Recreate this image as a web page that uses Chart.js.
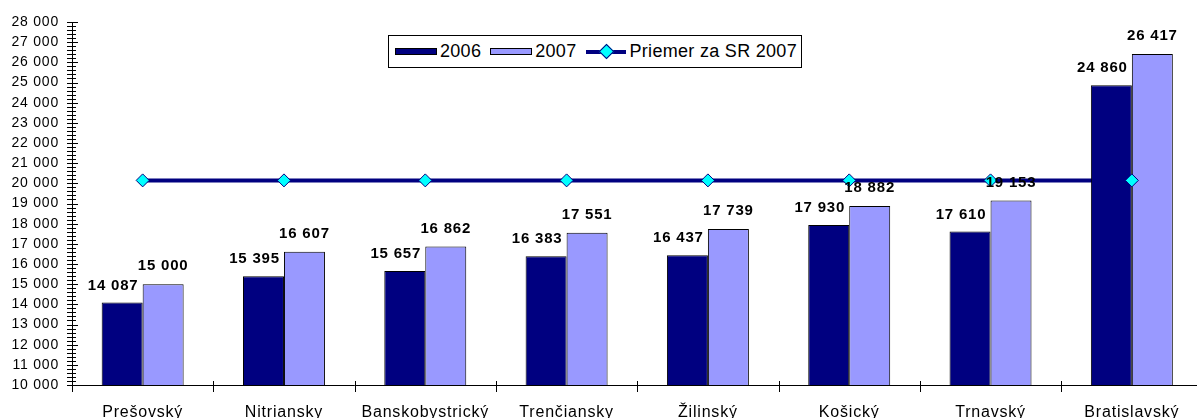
<!DOCTYPE html>
<html>
<head>
<meta charset="utf-8">
<script src="https://cdn.jsdelivr.net/npm/chart.js@4"></script>
<style>
  html, body { margin: 0; padding: 0; background: #fff; overflow: hidden; }
  #wrap { position: relative; width: 1210px; height: 418px; }
  #legend {
    position: absolute; left: 388px; top: 35px; width: 412px; height: 31px;
    border: 1px solid #000; background: #fff; box-sizing: content-box;
    font-family: "Liberation Sans", Arial, sans-serif; font-size: 18px; letter-spacing: 0.3px;
    display: flex; align-items: center; color: #000;
  }
  .sw { display: inline-block; width: 40px; height: 5px; border: 1px solid #000; margin: 0 3px 0 6px; }
  .ln { position: relative; display: inline-block; width: 40px; height: 4px; background: #000080; margin: 0 4px 0 9px; }
  .ln i { position: absolute; left: 15px; top: -4px; width: 9px; height: 9px; background: #00ffff;
          border: 1px solid #000080; transform: rotate(45deg); }
</style>
</head>
<body>
<div id="wrap">
  <canvas id="chart"></canvas>
  <div id="legend">
    <span class="sw" style="background:#000080"></span><span>2006</span>
    <span class="sw" style="background:#9999ff; margin-left:9px"></span><span>2007</span>
    <span class="ln"><i></i></span><span>Priemer za SR 2007</span>
  </div>
</div>
<script>
const regions = ['Prešovský', 'Nitriansky', 'Banskobystrický', 'Trenčiansky', 'Žilinský', 'Košický', 'Trnavský', 'Bratislavský'];
const wages2006 = [14087, 15395, 15657, 16383, 16437, 17930, 17610, 24860];
const wages2007 = [15000, 16607, 16862, 17551, 17739, 18882, 19153, 26417];
const average2007 = [20146, 20146, 20146, 20146, 20146, 20146, 20146, 20146];
const yMin = 10000;
const yMax = 28000;

const FONT = '"Liberation Sans", Arial, sans-serif';

function fmt(v) {
    return String(v).replace(/\B(?=(\d{3})+(?!\d))/g, ' ');
}

// minor / major tick marks on the axes, like the excel original
const tickMarks = {
    id: 'tickMarks',
    beforeDraw(chart) {
        chart.ctx.letterSpacing = '0.8px';
    },
    afterDraw(chart) {
        const ctx = chart.ctx;
        const area = chart.chartArea;
        const ax = Math.round(area.left);
        const ay = Math.round(area.bottom);
        const n = (yMax - yMin) / 200;
        const step = (area.bottom - area.top) / n;
        ctx.save();
        ctx.fillStyle = '#000';
        for (let k = 0; k <= n; k++) {
            const py = Math.round(area.bottom - k * step);
            const major = k % 5 === 0;
            ctx.fillRect(ax - 5, py, major ? 11 : 9, 1);
        }
        const cw = (area.right - area.left) / regions.length;
        for (let i = 0; i <= regions.length; i++) {
            const px = Math.round(area.left + i * cw);
            ctx.fillRect(px, ay - 4, 1, 11);
        }
        ctx.fillRect(ax, Math.round(area.top), 1, ay - Math.round(area.top));
        ctx.restore();
    }
};

// bold value labels above the bars
const barLabels = {
    id: 'barLabels',
    afterDatasetsDraw(chart) {
        const ctx = chart.ctx;
        ctx.save();
        ctx.font = 'bold 15px ' + FONT;
        ctx.fillStyle = '#000';
        ctx.textAlign = 'center';
        ctx.textBaseline = 'middle';
        [0, 1].forEach(di => {
            const meta = chart.getDatasetMeta(di);
            const data = chart.data.datasets[di].data;
            meta.data.forEach((bar, i) => {
                const dx = di === 0 ? -9 : 0;
                const dy = di === 0 ? 17 : 18;
                ctx.fillText(fmt(data[i]), bar.x + dx, bar.y - dy);
            });
        });
        ctx.restore();
    }
};

new Chart(document.getElementById('chart'), {
    type: 'bar',
    data: {
        labels: regions,
        datasets: [
            {
                label: '2006',
                data: wages2006,
                backgroundColor: '#000080',
                borderColor: '#000',
                borderWidth: 1,
                borderSkipped: false,
                barPercentage: 1,
                categoryPercentage: 0.58,
                order: 1
            },
            {
                label: '2007',
                data: wages2007,
                backgroundColor: '#9999ff',
                borderColor: '#000',
                borderWidth: 1,
                borderSkipped: false,
                barPercentage: 1,
                categoryPercentage: 0.58,
                order: 1
            },
            {
                type: 'line',
                label: 'Priemer za SR 2007',
                data: average2007,
                borderColor: '#000080',
                borderWidth: 4,
                pointRadius: 0,
                fill: false,
                order: 3
            },
            {
                type: 'line',
                label: 'markers',
                data: average2007,
                showLine: false,
                pointStyle: 'rectRot',
                pointRadius: 6.5,
                pointBackgroundColor: '#00ffff',
                pointBorderColor: '#000080',
                pointBorderWidth: 1,
                order: 0
            }
        ]
    },
    options: {
        responsive: true,
        maintainAspectRatio: false,
        animation: false,
        layout: { padding: { top: 22, right: 5, left: 0, bottom: 0 } },
        plugins: {
            legend: { display: false },
            tooltip: { enabled: false }
        },
        scales: {
            x: {
                grid: { display: false },
                border: { display: true, color: '#000', width: 1 },
                ticks: {
                    color: '#000',
                    font: { family: FONT, size: 16 },
                    padding: 10,
                    maxRotation: 0,
                    autoSkip: false
                },
                afterFit(scale) { scale.height = 33; }
            },
            y: {
                min: yMin,
                max: yMax,
                grid: { display: false },
                border: { display: true, color: '#000', width: 1 },
                ticks: {
                    stepSize: 1000,
                    color: '#000',
                    font: { family: FONT, size: 14 },
                    padding: 5,
                    callback: v => fmt(v)
                },
                afterFit(scale) { scale.width = 72; }
            }
        }
    },
    plugins: [tickMarks, barLabels]
});
</script>
</body>
</html>
